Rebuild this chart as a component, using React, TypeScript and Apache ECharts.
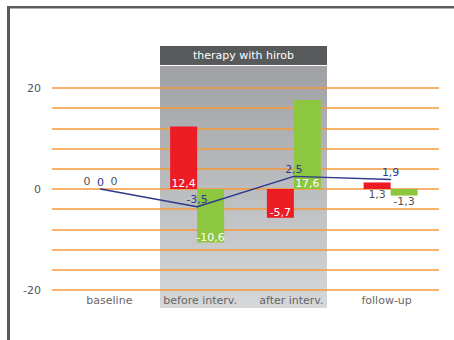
import React, { useEffect, useRef } from "react";
import * as echarts from "echarts";

const categories = ["baseline", "before interv.", "after interv.", "follow-up"];
const redValues = [0, 12.4, -5.7, 1.3];
const greenValues = [0, -10.6, 17.6, -1.3];
const lineValues = [0, -3.5, 2.5, 1.9];
const yTickLabels = [-20, 0, 20];
const bandTitle = "therapy with hirob";

const FONT = "DejaVu Sans";
const fmt = (v: number) => String(v).replace(".", ",");
// small horizontal nudges of the category labels, as in the reference
const labelShift = [18, 6, -5, -8];

function barItems(values: number[], color: string) {
  return values.map((v) => {
    let label: any;
    if (v === 0) {
      label = { show: true, position: "top", distance: 2, color: "#555", formatter: fmt(v) };
    } else if (Math.abs(v) < 3) {
      label = { show: true, position: "bottom", distance: 0, color: "#555", formatter: fmt(v) };
    } else {
      label = { show: true, position: "insideBottom", distance: 0, color: "#fff", formatter: fmt(v) };
    }
    return { value: v, itemStyle: { color }, label };
  });
}

export default function App() {
  const ref = useRef<HTMLDivElement>(null);
  useEffect(() => {
    if (!ref.current) return;
    const chart = echarts.init(ref.current, undefined, { renderer: "svg" });
    chart.setOption({
      animation: false,
      textStyle: { fontFamily: FONT },
      grid: { left: 52, right: 15, top: 88, bottom: 50 },
      xAxis: {
        type: "category",
        data: categories.map((c, i) => ({
          value: c,
          textStyle: {
            padding: labelShift[i] > 0 ? [0, 0, 0, labelShift[i]] : [0, -labelShift[i], 0, 0],
          },
        })),
        axisLine: { show: false },
        axisTick: { show: false },
        axisLabel: { color: "#666", fontSize: 11, fontFamily: FONT, margin: 5 },
      },
      yAxis: {
        type: "value",
        min: -20,
        max: 20,
        interval: 4,
        axisLine: { show: false },
        axisTick: { show: false },
        axisLabel: {
          color: "#555",
          fontSize: 11,
          fontFamily: FONT,
          margin: 11,
          formatter: (v: number) => (yTickLabels.includes(v) ? String(v) : ""),
        },
        splitLine: {
          show: true,
          lineStyle: { color: "#f7993a", width: 1.5 },
        },
      },
      graphic: [
        {
          type: "rect",
          z: -10,
          shape: { x: 160, y: 66, width: 167, height: 242 },
          style: {
            fill: new echarts.graphic.LinearGradient(0, 0, 0, 1, [
              { offset: 0, color: "#a0a1a4" },
              { offset: 1, color: "#d6d7d9" },
            ]),
          },
        },
        {
          type: "rect",
          z: -10,
          shape: { x: 160, y: 46, width: 167, height: 19 },
          style: { fill: "#58595b" },
        },
        {
          type: "text",
          x: 243.5,
          y: 55.5,
          style: {
            text: bandTitle,
            fill: "#fff",
            fontSize: 11,
            fontFamily: FONT,
            align: "center",
            verticalAlign: "middle",
          },
        },
        { type: "rect", shape: { x: 7, y: 6, width: 447, height: 2 }, style: { fill: "#5b5b5b" } },
        { type: "rect", shape: { x: 10, y: 8, width: 444, height: 1 }, style: { fill: "#b0b0b0" } },
        { type: "rect", shape: { x: 7, y: 6, width: 3, height: 334 }, style: { fill: "#5b5b5b" } },
      ],
      series: [
        {
          type: "bar",
          data: barItems(redValues, "#ed1c24"),
          barWidth: 27,
          barGap: "0%",
          label: { fontSize: 11, fontFamily: FONT },
        },
        {
          type: "bar",
          data: barItems(greenValues, "#8dc63f"),
          barWidth: 27,
          barGap: "0%",
          label: { fontSize: 11, fontFamily: FONT },
        },
        {
          type: "line",
          data: lineValues,
          symbol: "circle",
          symbolSize: 1,
          itemStyle: { color: "#2e3a8c" },
          lineStyle: { color: "#2e3a8c", width: 1.5 },
          label: {
            show: true,
            position: "top",
            distance: 1,
            color: "#2e3a8c",
            fontSize: 11,
            fontFamily: FONT,
            formatter: (p: any) => fmt(p.value),
          },
        },
      ],
    });
    return () => chart.dispose();
  }, []);
  return (
    <div
      ref={ref}
      style={{ position: "absolute", left: 0, top: 0, width: 454, height: 340, background: "#fff" }}
    />
  );
}
